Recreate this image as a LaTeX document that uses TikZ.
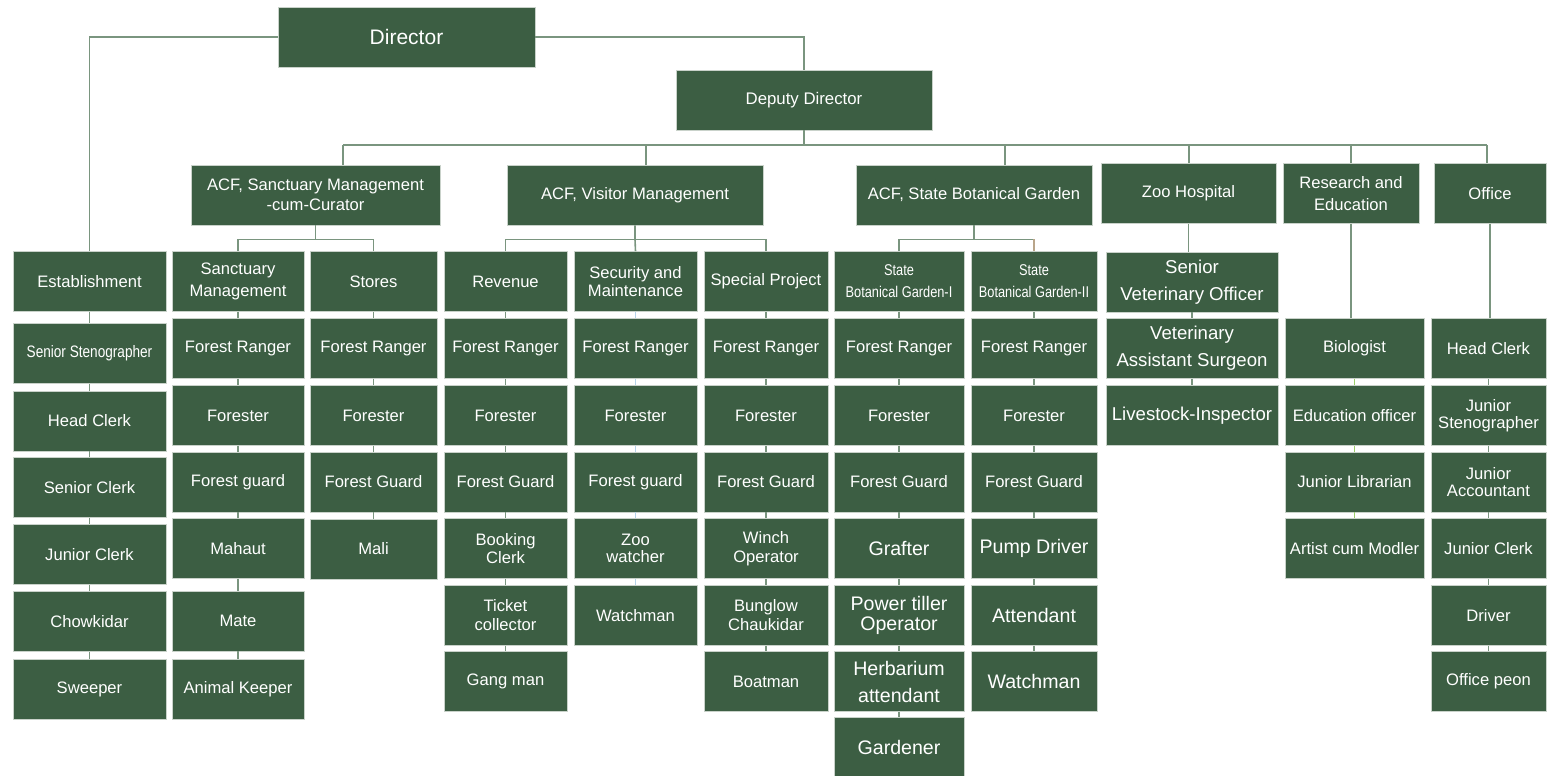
\documentclass[tikz,border=0pt]{standalone}
\usepackage{fontspec}
\setmainfont{Liberation Sans}
\newfontfamily\narrowfont[FakeStretch=0.82]{Liberation Sans}
\definecolor{boxgreen}{HTML}{3C5E43}
\definecolor{boxedge}{HTML}{C9D2CA}
\definecolor{linkgray}{HTML}{7A957F}
\definecolor{linkblue}{HTML}{B5D3EA}
\definecolor{linklime}{HTML}{9CCF6A}
\definecolor{linktan}{HTML}{B9A58A}

\tikzset{
  post/.style={rectangle, draw=boxedge, line width=0.4pt, fill=boxgreen, text=white,
    align=center, inner sep=0pt, minimum height=30pt, font=\fontsize{8.3}{9.5}\selectfont},
  norm/.style={},
  tight/.style={font=\fontsize{8.3}{8.6}\selectfont},
  loose/.style={font=\fontsize{8.3}{11}\selectfont},
  big/.style={font=\fontsize{9.8}{13.5}\selectfont},
  bigtight/.style={font=\fontsize{9.8}{10}\selectfont},
  mid/.style={font=\fontsize{9.3}{13.5}\selectfont},
  narrow/.style={font=\narrowfont\fontsize{8.3}{11}\selectfont},
  narrowsm/.style={font=\narrowfont\fontsize{7.8}{11}\selectfont},
  link/.style={draw=linkgray, line width=0.8pt},
  bluelink/.style={draw=linkblue, line width=0.8pt},
  limelink/.style={draw=linklime, line width=0.8pt},
}

\begin{document}
\begin{tikzpicture}[x=0.5pt,y=-0.5pt]
\useasboundingbox (0,0) rectangle (1548,776);

% top of the chart
\node[post, minimum width=128.5pt, font=\fontsize{10.5}{12}\selectfont] (dir) at (406.5,37) {Director};
\node[post, minimum width=128pt, font=\fontsize{8.4}{10}\selectfont] (dep) at (804,100) {Deputy Director};

% second level
\node[post, minimum width=124.5pt, font=\fontsize{8.3}{10}\selectfont] (acfsm) at (315.5,195) {ACF, Sanctuary Management\\-cum-Curator};
\node[post, minimum width=128pt] (acfvm) at (635,195) {ACF, Visitor Management};
\node[post, minimum width=118pt] (acfsbg) at (974,195) {ACF, State Botanical Garden};
\node[post, minimum width=87.5pt] (zoo) at (1188.5,193.5) {Zoo Hospital};
\node[post, minimum width=68pt, loose] (res) at (1351,193.5) {Research and\\Education};
\node[post, minimum width=56pt] (off) at (1490,193.5) {Office};

% columns
\foreach \t/\y/\f [count=\i] in {Establishment/281.5/norm, Senior Stenographer/353.5/narrow,
  Head Clerk/421/norm, Senior Clerk/487.5/norm, Junior Clerk/554.5/norm, Chowkidar/621.5/norm,
  Sweeper/689/norm}{
  \pgfmathtruncatemacro\j{\i-1}
  \node[post, minimum width=76.5pt, \f] (est\i) at (89.5,\y) {\t};
  \ifnum\i>1 \draw[link] (est\j) -- (est\i); \fi
}

\foreach \t/\y/\f [count=\i] in {Sanctuary\\Management/281.5/loose, Forest Ranger/348.5/norm,
  Forester/415.5/norm, Forest guard/482/norm, Mahaut/548.5/norm, Mate/621/norm,
  Animal Keeper/689/norm}{
  \pgfmathtruncatemacro\j{\i-1}
  \node[post, minimum width=66pt, \f] (sm\i) at (238,\y) {\t};
  \ifnum\i>1 \draw[link] (sm\j) -- (sm\i); \fi
}

\foreach \t/\y/\f [count=\i] in {Stores/281.5/norm, Forest Ranger/348.5/norm,
  Forester/415.5/norm, Forest Guard/482/norm, Mali/549/norm}{
  \pgfmathtruncatemacro\j{\i-1}
  \node[post, minimum width=63.5pt, \f] (st\i) at (373.5,\y) {\t};
  \ifnum\i>1 \draw[link] (st\j) -- (st\i); \fi
}

\foreach \t/\y/\f [count=\i] in {Revenue/281.5/norm, Forest Ranger/348.5/norm,
  Forester/415.5/norm, Forest Guard/482/norm, Booking\\Clerk/548.5/tight,
  Ticket\\collector/615.5/norm, Gang man/681.5/norm}{
  \pgfmathtruncatemacro\j{\i-1}
  \node[post, minimum width=61.5pt, \f] (rev\i) at (505.5,\y) {\t};
  \ifnum\i>1 \draw[link] (rev\j) -- (rev\i); \fi
}

\foreach \t/\y/\f [count=\i] in {Security and\\Maintenance/281.5/tight, Forest Ranger/348.5/norm,
  Forester/415.5/norm, Forest guard/482/norm, Zoo\\watcher/548.5/tight, Watchman/615.5/norm}{
  \pgfmathtruncatemacro\j{\i-1}
  \node[post, minimum width=61.5pt, \f] (sec\i) at (635.5,\y) {\t};
  \ifnum\i>1 \draw[bluelink] (sec\j) -- (sec\i); \fi
}

\foreach \t/\y/\f [count=\i] in {Special Project/281.5/norm, Forest Ranger/348.5/norm,
  Forester/415.5/norm, Forest Guard/482/norm, Winch\\Operator/548.5/norm,
  Bunglow\\Chaukidar/615.5/norm, Boatman/681.5/norm}{
  \pgfmathtruncatemacro\j{\i-1}
  \node[post, minimum width=62pt, \f] (sp\i) at (766,\y) {\t};
  \ifnum\i>1 \draw[link] (sp\j) -- (sp\i); \fi
}

\foreach \t/\y/\f [count=\i] in {State\\Botanical Garden-I/281.5/narrowsm, Forest Ranger/348.5/norm,
  Forester/415.5/norm, Forest Guard/482/norm, Grafter/548.5/big,
  Power tiller\\Operator/615.5/bigtight, Herbarium\\attendant/681.5/big, Gardener/747/big}{
  \pgfmathtruncatemacro\j{\i-1}
  \node[post, minimum width=65pt, \f] (sga\i) at (899,\y) {\t};
  \ifnum\i>1 \draw[link] (sga\j) -- (sga\i); \fi
}

\foreach \t/\y/\f [count=\i] in {State\\Botanical Garden-II/281.5/narrowsm, Forest Ranger/348.5/norm,
  Forester/415.5/norm, Forest Guard/482/norm, Pump Driver/548.5/big,
  Attendant/615.5/big, Watchman/681.5/big}{
  \pgfmathtruncatemacro\j{\i-1}
  \node[post, minimum width=63pt, \f] (sgb\i) at (1034,\y) {\t};
  \ifnum\i>1 \draw[link] (sgb\j) -- (sgb\i); \fi
}

\foreach \t/\y/\f [count=\i] in {Senior\\Veterinary Officer/282/mid,
  Veterinary\\Assistant Surgeon/348.5/mid, Livestock-Inspector/415.5/mid}{
  \pgfmathtruncatemacro\j{\i-1}
  \node[post, minimum width=86pt, \f] (vet\i) at (1192,\y) {\t};
  \ifnum\i>1 \draw[link] (vet\j) -- (vet\i); \fi
}

\foreach \t/\y/\f [count=\i] in {Biologist/348.5/norm, Education officer/415.5/norm,
  Junior Librarian/482/norm, Artist cum Modler/548.5/norm}{
  \pgfmathtruncatemacro\j{\i-1}
  \node[post, minimum width=69.5pt, \f] (edu\i) at (1354.5,\y) {\t};
  \ifnum\i>1 \draw[limelink] (edu\j) -- (edu\i); \fi
}

\foreach \t/\y/\f [count=\i] in {Head Clerk/348.5/norm, Junior\\Stenographer/415.5/tight,
  Junior\\Accountant/482/tight, Junior Clerk/548.5/norm, Driver/615.5/norm,
  Office peon/681.5/norm}{
  \pgfmathtruncatemacro\j{\i-1}
  \node[post, minimum width=57.5pt, \f] (ofc\i) at (1488.5,\y) {\t};
  \ifnum\i>1 \draw[link] (ofc\j) -- (ofc\i); \fi
}

% connectors between levels
\draw[link] (dir.west) -| (est1.north);
\draw[link] (dir.east) -| (dep.north);
\foreach \n/\x in {acfsm/343, acfvm/646, acfsbg/1005, zoo/1189, res/1351, off/1487}{
  \coordinate (b-\n) at (\x,145);
  \draw[link] (b-\n) -- (b-\n |- \n.north);
}
\draw[link] (b-acfsm) -- (b-off);
\draw[link] (dep.south) -- (dep.south |- b-acfsm);

\draw[link] (acfsm.south) -- ++(0,14) coordinate (j-sm);
\draw[link] (sm1.north) |- (j-sm) -| (st1.north);
\draw[link] (acfvm.south) -- ++(0,14) coordinate (j-vm) -- (sec1.north);
\draw[link] (rev1.north) |- (j-vm) -| (sp1.north);
\draw[link] (acfsbg.south) -- ++(0,14) coordinate (j-sg);
\draw[link] (sga1.north) |- (j-sg) -- (j-sg -| sgb1.north);
\draw[draw=linktan, line width=0.8pt] (j-sg -| sgb1.north) -- (sgb1.north);

\draw[link] (zoo.south) -- (zoo.south |- vet1.north);
\draw[link] (res.south) -- (res.south |- edu1.north);
\draw[link] (off.south) -- (off.south |- ofc1.north);
\end{tikzpicture}
\end{document}
